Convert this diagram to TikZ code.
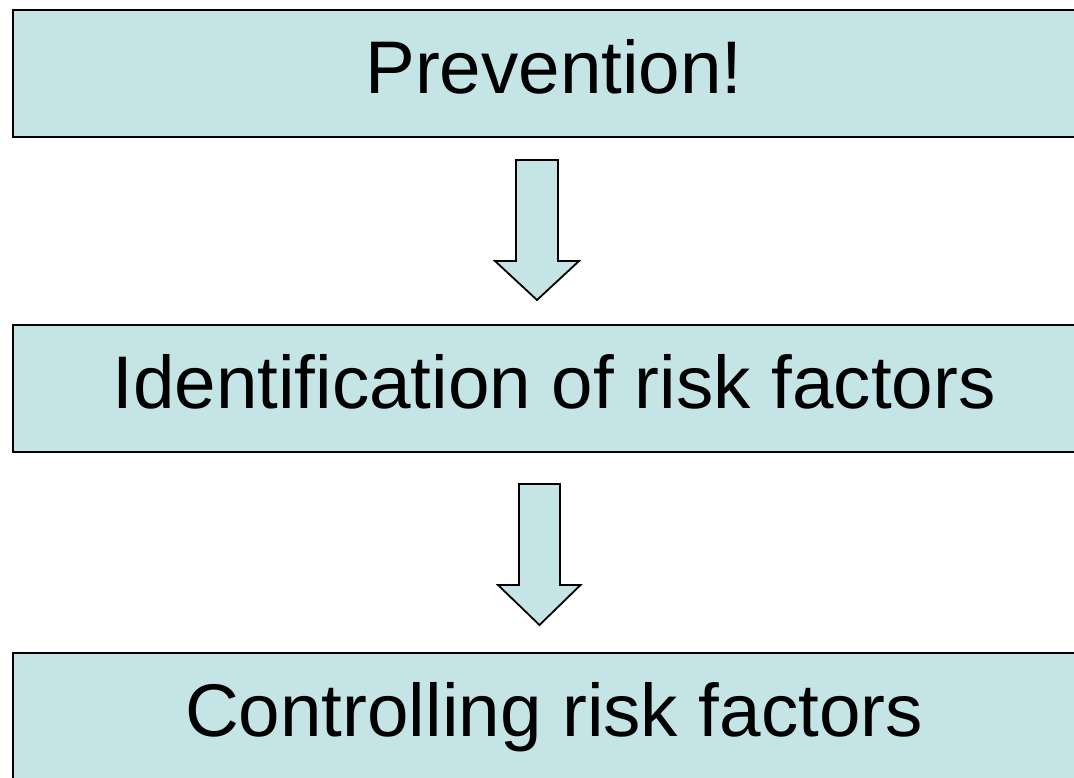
\documentclass[tikz,border=0pt]{standalone}
\usepackage{fontspec}
\setmainfont{Liberation Sans}
\definecolor{boxfill}{RGB}{196,228,230}
\begin{document}
\begin{tikzpicture}[x=1pt,y=-1pt,
  stagebox/.style={draw=black,line width=2pt,fill=boxfill,inner sep=0pt,
    minimum width=1082pt,minimum height=127pt,anchor=north west,
    font=\fontsize{74.6}{80}\selectfont,text height=56pt,text depth=16pt},
  blockarrow/.style={draw=black,line width=1.8pt,fill=boxfill,line join=miter}]
\useasboundingbox (0,0) rectangle (1074,777);
\node[stagebox] (prev) at (12,9) {Prevention!};
\node[stagebox] (ident) at (12,324) {Identification of risk factors};
\node[stagebox] (ctrl) at (12,652) {Controlling risk factors};
% block arrows
\coordinate (a1) at (537,160);
\draw[blockarrow] (a1) ++(-21,0) -- ++(0,101) -- ++(-21,0) -- (537,300) -- ++(42,-39) -- ++(-21,0) -- ++(0,-101) -- cycle;
\coordinate (a2) at (539.5,484);
\draw[blockarrow] (a2) ++(-20.5,0) -- ++(0,101) -- ++(-21,0) -- (539.5,625) -- ++(41,-40) -- ++(-20.5,0) -- ++(0,-101) -- cycle;
\end{tikzpicture}
\end{document}
